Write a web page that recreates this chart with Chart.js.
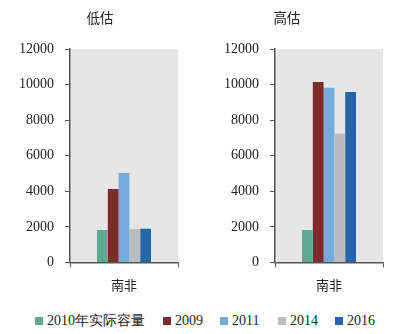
<!DOCTYPE html>
<html><head><meta charset="utf-8">
<script src="https://cdn.jsdelivr.net/npm/chart.js@4"></script>
<style>
html,body{margin:0;padding:0;background:#fff;width:401px;height:334px;overflow:hidden;}
#c1{position:absolute;left:0;top:0;}
#c2{position:absolute;left:206px;top:0;}
.title{position:absolute;top:7px;width:60px;text-align:center;font-family:"Noto Sans CJK SC",sans-serif;font-size:13.5px;color:#222;line-height:20px;}
#legend{position:absolute;left:0;top:311px;width:401px;height:20px;font-family:"Liberation Serif","DejaVu Serif",serif;font-size:14px;color:#222;}
.it{position:absolute;top:0;height:20px;line-height:20px;white-space:nowrap;}
.sw{display:inline-block;width:8px;height:8px;margin-right:4px;vertical-align:0px;}
</style></head><body>
<canvas id="c1" width="195" height="303"></canvas>
<canvas id="c2" width="195" height="303"></canvas>
<div class="title" style="left:70px">低估</div>
<div class="title" style="left:257px">高估</div>
<div id="legend"></div>
<script>
const categories = ['南非'];
const seriesNames = ['2010年实际容量','2009','2011','2014','2016'];
const lowValues  = [1820, 4130, 5030, 1880, 1890];
const highValues = [1820, 10150, 9820, 7230, 9580];
const yTicks = [0,2000,4000,6000,8000,10000,12000];
const colors = ['#5fa993','#7e2b2c','#74acd9','#bcbcbf','#2367a8'];

const bgPlugin = {
  id:'bg',
  beforeDraw(chart){
    const {ctx, chartArea:a} = chart;
    ctx.save(); ctx.fillStyle='#e6e6e6';
    ctx.fillRect(a.left,a.top,a.right-a.left,a.bottom-a.top);
    ctx.restore();
  }
};

function make(id, values, padL, padR){
  return new Chart(document.getElementById(id), {
    type:'bar',
    data:{
      labels:categories,
      datasets:seriesNames.map((n,i)=>({label:n,data:[values[i]],backgroundColor:colors[i],borderWidth:0}))
    },
    options:{
      responsive:false, animation:false, devicePixelRatio:1,
      layout:{padding:{left:padL,right:padR,top:49,bottom:0}},
      datasets:{bar:{categoryPercentage:0.5,barPercentage:1}},
      plugins:{legend:{display:false},tooltip:{enabled:false},title:{display:false}},
      scales:{
        x:{
          grid:{display:true,drawOnChartArea:false,drawTicks:true,tickLength:5,color:'#555',offset:true},
          border:{color:'#555',width:1.5},
          ticks:{color:'#222',font:{family:'"Noto Sans CJK SC"',size:13},padding:10}
        },
        y:{
          min:0,max:12000,
          afterBuildTicks(ax){ax.ticks=yTicks.map(v=>({value:v}));},
          grid:{display:true,drawOnChartArea:false,drawTicks:true,tickLength:5,color:'#555'},
          border:{color:'#555',width:1.5},
          ticks:{color:'#222',font:{family:'"Liberation Serif"',size:14},padding:11,callback:v=>String(v)}
        }
      }
    },
    plugins:[bgPlugin]
  });
}
make('c1',lowValues,8,17);
make('c2',highValues,7,18);

const lg = document.getElementById('legend');
const lefts=[35,163,220,278,335];
seriesNames.forEach((n,i)=>{
  const d=document.createElement('div'); d.className='it'; d.style.left=lefts[i]+'px';
  const s=document.createElement('span'); s.className='sw'; s.style.background=colors[i];
  d.appendChild(s);
  const t=document.createElement('span'); t.textContent=n;
  d.appendChild(t);
  lg.appendChild(d);
});
</script>
</body></html>
